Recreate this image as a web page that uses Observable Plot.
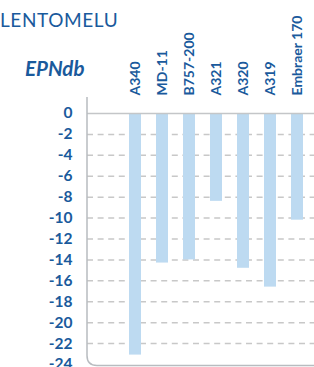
<!DOCTYPE html>
<html><head><meta charset="utf-8">
<script src="https://cdn.jsdelivr.net/npm/d3@7"></script>
<script src="https://cdn.jsdelivr.net/npm/@observablehq/plot@0.6"></script>
<style>
body{margin:0;background:#fff;}
#wrap{position:relative;width:314px;height:367px;overflow:hidden;font-family:Lato,"Open Sans",sans-serif;}
#title{position:absolute;left:0;top:10px;font-size:19px;color:#1a5a9c;line-height:19px;letter-spacing:0.6px;white-space:nowrap}
#unit{position:absolute;left:25px;top:58px;font-size:20.5px;font-weight:bold;font-style:italic;color:#1a5a9c;line-height:20px}
</style></head><body>
<div id="wrap"><div id="chart"></div><div id="title">LENTOMELU</div><div id="unit">EPNdb</div></div>
<script>
const aircraft = ["A340", "MD-11", "B757-200", "A321", "A320", "A319", "Embraer 170"];
const epndb = [-23.1, -14.3, -14.0, -8.4, -14.8, -16.6, -10.2];
const yTicks = [0, -2, -4, -6, -8, -10, -12, -14, -16, -18, -20, -22, -24];
const gridTicks = [-2, -4, -6, -8, -10, -12, -14, -16, -18, -20, -22];

const data = aircraft.map((a, i) => ({aircraft: a, value: epndb[i]}));
const blue = "#1a5a9c";

const border = (index, scales, values, dims) => {
  const ns = "http://www.w3.org/2000/svg";
  const p = document.createElementNS(ns, "path");
  const x0 = dims.marginLeft, yb = dims.height - dims.marginBottom + 1.5, yt = dims.marginTop - 16, r = 10, x1 = dims.width;
  p.setAttribute("d", `M${x0},${yt}V${yb - r}Q${x0},${yb} ${x0 + r},${yb}H${x1}`);
  p.setAttribute("fill", "none");
  p.setAttribute("stroke", "#b8bcc0");
  p.setAttribute("stroke-width", "1.5");
  return p;
};

const chart = Plot.plot({
  width: 314,
  height: 367,
  marginTop: 113,
  marginBottom: 3,
  marginLeft: 87,
  marginRight: 0,
  style: {fontFamily: "Lato, 'Open Sans', sans-serif", color: blue, background: "white"},
  x: {domain: aircraft, range: [111.4, 320.2], padding: 0.565},
  y: {domain: [-24, 0]},
  marks: [
    Plot.ruleY(gridTicks, {stroke: "#c8c8c8", strokeWidth: 1.5, strokeDasharray: "6,4.6"}),
    Plot.barY(data, {x: "aircraft", y: "value", fill: "#bddaf1"}),
    Plot.ruleY([0], {stroke: "#c4c6c8", strokeWidth: 1.5}),
    border,
    Plot.axisY({ticks: yTicks, tickFormat: d => String(d), tickSize: 0, tickPadding: 15, fontSize: 15.5, fontWeight: "bold", label: null}),
    Plot.axisX({anchor: "top", tickRotate: -90, tickSize: 0, tickPadding: 18, fontSize: 14, fontWeight: "bold", label: null})
  ]
});
document.getElementById("chart").appendChild(chart);
</script>
</body></html>
